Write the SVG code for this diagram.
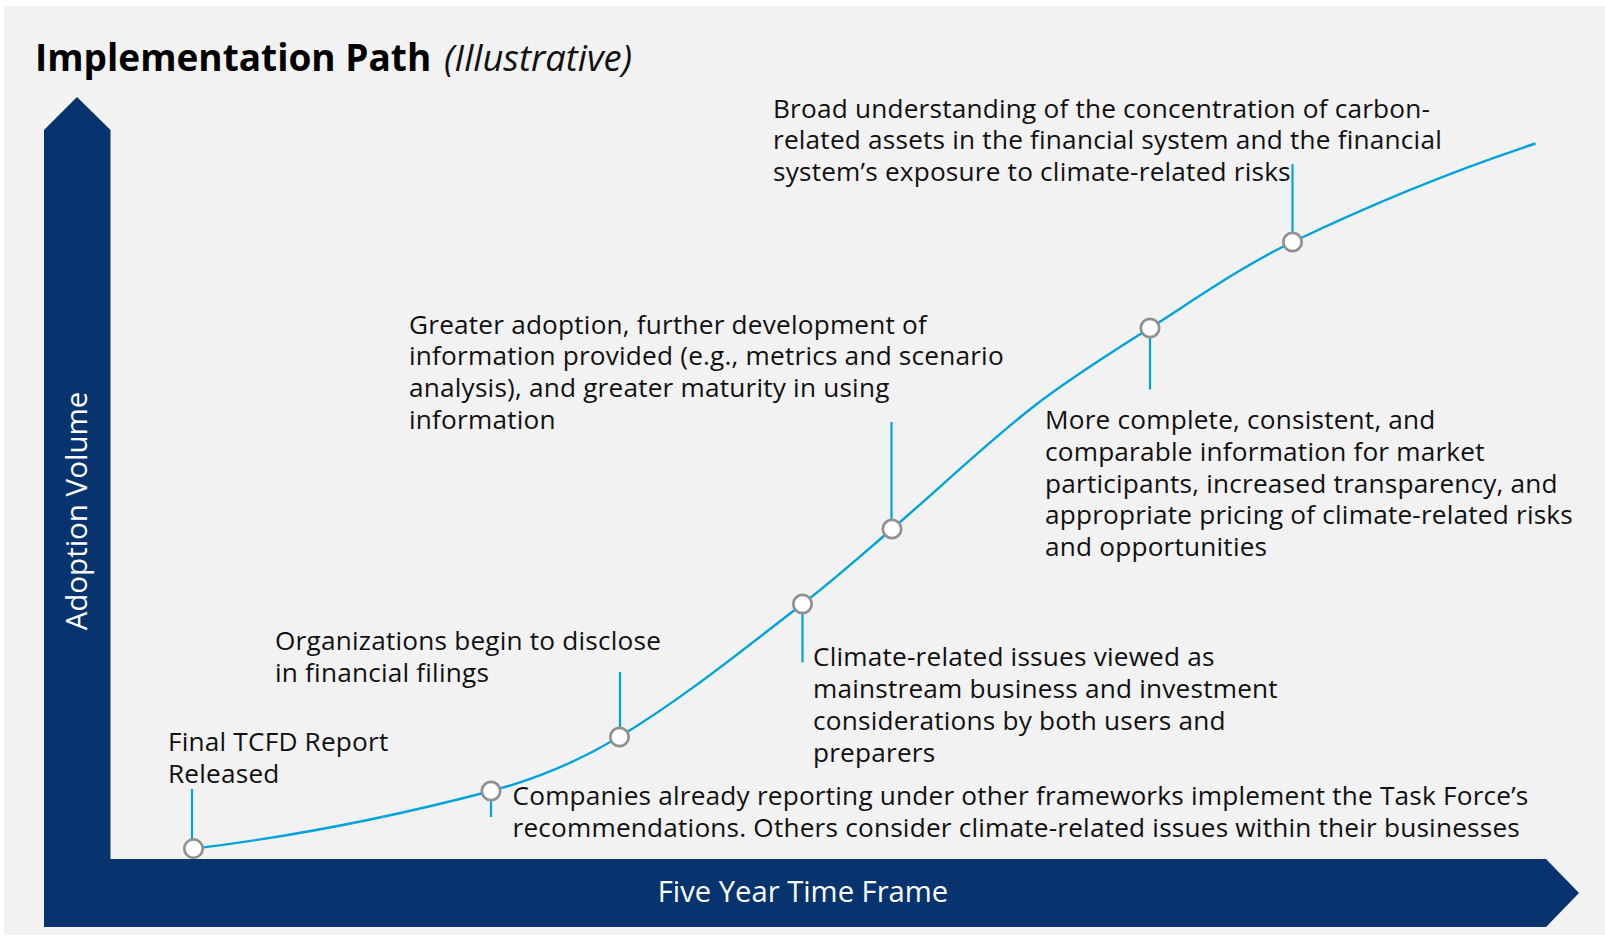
<svg xmlns="http://www.w3.org/2000/svg" width="1605" height="937" viewBox="0 0 1605 937">
  <style>
    .lbl { font-family: "Open Sans", "Noto Sans", "Liberation Sans", sans-serif; font-size: 26.2px; letter-spacing: 0.2px; fill: #111111; }
    .axis-text { font-family: "Open Sans", "Noto Sans", "Liberation Sans", sans-serif; fill: #ffffff; }
    .leader { stroke: #00a3dc; stroke-width: 2.2; fill: none; }
    .curve { stroke: #00a3dc; stroke-width: 2.4; fill: none; }
    .milestone { fill: #ffffff; stroke: #8f9091; stroke-width: 2.7; }
    .axis { fill: #07346f; }
  </style>

  <!-- panel background -->
  <rect x="0" y="0" width="1605" height="937" fill="#ffffff"/>
  <rect x="4" y="6" width="1601" height="929" fill="#f2f2f2"/>

  <!-- title -->
  <g id="title">
    <text x="35" y="71" font-family="'Open Sans', 'Noto Sans', 'Liberation Sans', sans-serif" font-size="37" font-weight="bold" fill="#000000">Implementation Path</text>
    <text x="444" y="71" font-family="'Open Sans', 'Noto Sans', 'Liberation Sans', sans-serif" font-size="36" font-style="italic" fill="#111111" textLength="188" lengthAdjust="spacingAndGlyphs">(Illustrative)</text>
  </g>

  <!-- axes -->
  <g id="y-axis">
    <polygon class="axis" points="44,130 77,97 110.5,130 110.5,926 44,926"/>
    <text class="axis-text" transform="translate(87,511) rotate(-90)" text-anchor="middle" font-size="29.5">Adoption Volume</text>
  </g>
  <g id="x-axis">
    <polygon class="axis" points="44,859 1546,859 1579,893 1546,927 44,927"/>
    <text class="axis-text" x="803" y="902" text-anchor="middle" font-size="29.2">Five Year Time Frame</text>
  </g>

  <!-- connectors: adoption curve and leader lines -->
  <g id="connectors">
    <path class="curve" d="M193.5,848.6 C293.8,836.6 393.3,816.7 491,791 C535.8,779.2 579.3,760.8 619,737 C683.7,698.1 742.5,649.8 802.5,604 C833.4,580.4 862.4,554.3 892,529 C939.3,488.6 983.9,445.3 1033,407 C1070.2,378 1110.2,353.3 1150,328 C1196.8,298.2 1242.4,266 1292.5,242 C1371.3,204.2 1452.5,170.9 1535.5,143.5"/>
    <line class="leader" x1="192" y1="789" x2="192" y2="840"/>
    <line class="leader" x1="491" y1="791" x2="491" y2="817"/>
    <line class="leader" x1="620" y1="672" x2="620" y2="737"/>
    <line class="leader" x1="802.5" y1="604" x2="802.5" y2="662.5"/>
    <line class="leader" x1="891.5" y1="422" x2="891.5" y2="529"/>
    <line class="leader" x1="1150" y1="328" x2="1150" y2="389.5"/>
    <line class="leader" x1="1292.5" y1="164" x2="1292.5" y2="242"/>
  </g>

  <!-- milestones -->
  <g id="m1">
    <circle class="milestone" cx="193.5" cy="848.6" r="9.2"/>
    <text class="lbl" x="168" y="751"><tspan x="168">Final TCFD Report</tspan><tspan x="168" dy="31.7">Released</tspan></text>
  </g>
  <g id="m2">
    <circle class="milestone" cx="491" cy="791" r="9.2"/>
    <text class="lbl" x="512.5" y="805"><tspan x="512.5">Companies already reporting under other frameworks implement the Task Force’s</tspan><tspan x="512.5" dy="31.7">recommendations. Others consider climate-related issues within their businesses</tspan></text>
  </g>
  <g id="m3">
    <circle class="milestone" cx="619.5" cy="737" r="9.2"/>
    <text class="lbl" x="275" y="650"><tspan x="275">Organizations begin to disclose</tspan><tspan x="275" dy="31.7">in financial filings</tspan></text>
  </g>
  <g id="m4">
    <circle class="milestone" cx="802.5" cy="604" r="9.2"/>
    <text class="lbl" x="813" y="666.4"><tspan x="813">Climate-related issues viewed as</tspan><tspan x="813" dy="31.7">mainstream business and investment</tspan><tspan x="813" dy="31.7">considerations by both users and</tspan><tspan x="813" dy="31.7">preparers</tspan></text>
  </g>
  <g id="m5">
    <circle class="milestone" cx="892" cy="529" r="9.2"/>
    <text class="lbl" x="409" y="333.5"><tspan x="409">Greater adoption, further development of</tspan><tspan x="409" dy="31.7">information provided (e.g., metrics and scenario</tspan><tspan x="409" dy="31.7">analysis), and greater maturity in using</tspan><tspan x="409" dy="31.7">information</tspan></text>
  </g>
  <g id="m6">
    <circle class="milestone" cx="1150" cy="328" r="9.2"/>
    <text class="lbl" x="1045" y="429.3"><tspan x="1045">More complete, consistent, and</tspan><tspan x="1045" dy="31.7">comparable information for market</tspan><tspan x="1045" dy="31.7">participants, increased transparency, and</tspan><tspan x="1045" dy="31.7">appropriate pricing of climate-related risks</tspan><tspan x="1045" dy="31.7">and opportunities</tspan></text>
  </g>
  <g id="m7">
    <circle class="milestone" cx="1292.5" cy="242" r="9.2"/>
    <text class="lbl" x="773" y="117.5"><tspan x="773">Broad understanding of the concentration of carbon-</tspan><tspan x="773" dy="31.7">related assets in the financial system and the financial</tspan><tspan x="773" dy="31.7">system’s exposure to climate-related risks</tspan></text>
  </g>
</svg>
